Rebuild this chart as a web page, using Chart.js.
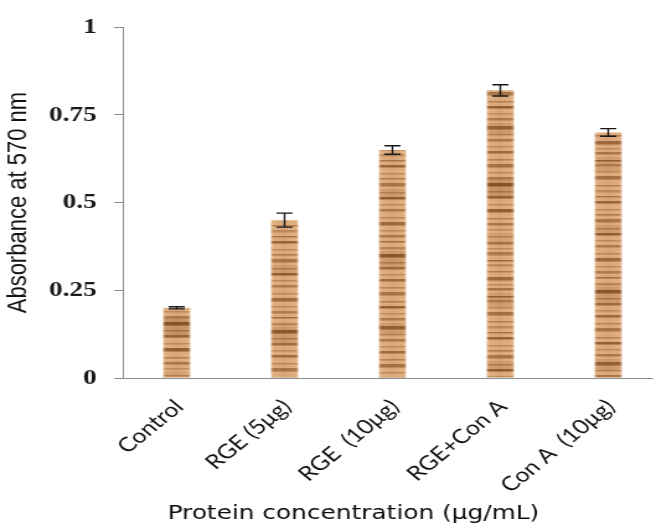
<!DOCTYPE html>
<html>
<head>
<meta charset="utf-8">
<script src="https://cdn.jsdelivr.net/npm/chart.js@4.4.0/dist/chart.umd.min.js"></script>
<style>
  html, body { margin: 0; padding: 0; background: #fff; overflow: hidden; width: 653px; height: 526px; }
  #c { display: block; width: 534px; height: 526px; transform: scaleX(1.24); transform-origin: 0 0; }
</style>
</head>
<body>
<canvas id="c" width="534" height="526"></canvas>
<script>
const categories = ['Control', 'RGE (5μg)', 'RGE  (10μg)', 'RGE+Con A', 'Con A  (10μg)'];
const absorbance = [0.20, 0.45, 0.65, 0.82, 0.70];
const errorValues = [0.003, 0.02, 0.012, 0.016, 0.011];
const yTickValues = [0, 0.25, 0.5, 0.75, 1];

// wood-grain fill (style only)
function woodTile() {
  const W = 87, H = 372;
  const c = document.createElement('canvas');
  c.width = W; c.height = H;
  const g = c.getContext('2d');
  g.fillStyle = '#deac7d';
  g.fillRect(0, 0, W, H);
  g.filter = 'blur(0.6px)';
  const bands = [
    [0,9,'rgba(170,110,60,0.18)'],[60,14,'rgba(170,110,60,0.22)'],[128,10,'rgba(150,95,50,0.2)'],
    [190,18,'rgba(160,100,55,0.25)'],[262,12,'rgba(150,95,50,0.22)'],[318,20,'rgba(140,85,45,0.28)']
  ];
  for (const [y, h, col] of bands) { g.fillStyle = col; g.fillRect(-5, y, W + 10, h); }
  const stripes = [
    [3,1,.35],[9,2,.55],[15,1,.3],[19,3,.45],[27,1,.6],[31,2,.3],[38,1,.45],[44,3,.6],
    [51,1,.3],[55,2,.5],[63,1,.7],[67,2,.4],[74,1,.3],[79,3,.55],[88,1,.4],[93,2,.3],
    [99,1,.5],[104,2,.65],[112,1,.3],[117,1,.45],[122,3,.5],[131,1,.35],[136,2,.7],[143,1,.3],
    [148,2,.45],[156,1,.35],[161,3,.6],[169,1,.3],[174,2,.45],[180,1,.55],[186,2,.35],[193,3,.75],
    [201,1,.4],[206,2,.55],[213,1,.3],[218,2,.6],[226,1,.35],[231,3,.5],[240,1,.4],[245,2,.7],
    [252,1,.3],[257,2,.45],[265,3,.65],[273,1,.35],[278,2,.5],[285,1,.3],[290,2,.6],[298,1,.4],
    [303,3,.55],[311,1,.3],[316,2,.45],[322,3,.8],[330,1,.4],[335,2,.6],[343,1,.3],[348,3,.7],
    [357,1,.4],[362,2,.5],[368,1,.3]
  ];
  for (const [y, h, a] of stripes) {
    g.fillStyle = 'rgba(128,74,32,' + (a * 1.15) + ')';
    g.fillRect(-5, y, W + 10, h + 0.5);
  }
  g.filter = 'none';
  // lighter soft edges of each bar (bars span 44.6..66.4 of the tile)
  const grad = g.createLinearGradient(44.6, 0, 66.4, 0);
  grad.addColorStop(0, 'rgba(255,235,205,0.35)');
  grad.addColorStop(0.12, 'rgba(255,235,205,0)');
  grad.addColorStop(0.5, 'rgba(120,70,30,0.08)');
  grad.addColorStop(0.88, 'rgba(255,235,205,0)');
  grad.addColorStop(1, 'rgba(255,235,205,0.35)');
  g.fillStyle = grad;
  g.fillRect(44.6, 0, 21.8, H);
  return c;
}

const errorBars = {
  id: 'errorBars',
  afterDatasetsDraw(chart) {
    const ctx = chart.ctx;
    const y = chart.scales.y;
    const meta = chart.getDatasetMeta(0);
    ctx.save();
    ctx.strokeStyle = '#1a1a1a';
    ctx.lineWidth = 1.4;
    meta.data.forEach((bar, i) => {
      const v = absorbance[i], e = errorValues[i];
      const yt = y.getPixelForValue(v + e), yb = y.getPixelForValue(v - e);
      const x = bar.x, w = 6.5;
      ctx.beginPath();
      ctx.moveTo(x, yt); ctx.lineTo(x, yb);
      ctx.moveTo(x - w, yt); ctx.lineTo(x + w, yt);
      ctx.moveTo(x - w, yb); ctx.lineTo(x + w, yb);
      ctx.stroke();
    });
    ctx.restore();
  }
};

const canvas = document.getElementById('c');
const ctx2d = canvas.getContext('2d');
const tile = woodTile();
const grainShift = [0, 137, 61, 233, 97];
const patterns = grainShift.map(s => {
  const p = ctx2d.createPattern(tile, 'repeat');
  p.setTransform(new DOMMatrix().translate(0, s));
  return p;
});

new Chart(canvas, {
  type: 'bar',
  data: {
    labels: categories,
    datasets: [{
      data: absorbance,
      backgroundColor: patterns,
      borderWidth: 0,
      barPercentage: 0.5,
      categoryPercentage: 0.5
    }]
  },
  options: {
    responsive: false,
    animation: false,
    devicePixelRatio: 1,
    layout: { padding: { top: 23, left: 36, right: 0, bottom: 0 } },
    plugins: {
      legend: { display: false },
      tooltip: { enabled: false },
      title: {
        display: true,
        position: 'bottom',
        text: 'Protein concentration (μg/mL)',
        font: { family: 'DejaVu Sans', size: 20, lineHeight: 1, weight: 'normal' },
        color: '#0a0a0a',
        padding: { top: 0, bottom: 2 }
      }
    },
    scales: {
      x: {
        grid: { display: false, drawTicks: false },
        border: { color: '#8c8c8c', width: 1 },
        ticks: {
          font: { family: 'Lato', size: 20 },
          color: '#111',
          minRotation: 45,
          maxRotation: 45,
          padding: 17,
          labelOffset: 2,
          autoSkip: false
        },
        afterFit(s) { s.height = 126; }
      },
      y: {
        min: 0,
        max: 1,
        afterBuildTicks(s) { s.ticks = yTickValues.map(v => ({ value: v })); },
        ticks: {
          callback: v => String(v),
          font: { family: 'Liberation Serif', size: 22, weight: 'bold' },
          color: '#1a1a1a',
          padding: 14
        },
        grid: { drawOnChartArea: false, tickLength: 7, color: '#8c8c8c' },
        border: { color: '#8c8c8c', width: 1 },
        title: {
          display: true,
          text: 'Absorbance at 570 nm',
          font: { family: 'Liberation Sans', size: 22 },
          color: '#111',
          padding: { top: -34.7, bottom: 0 }
        },
        afterFit(s) { s.width = 63; }
      }
    }
  },
  plugins: [errorBars]
});
</script>
</body>
</html>
